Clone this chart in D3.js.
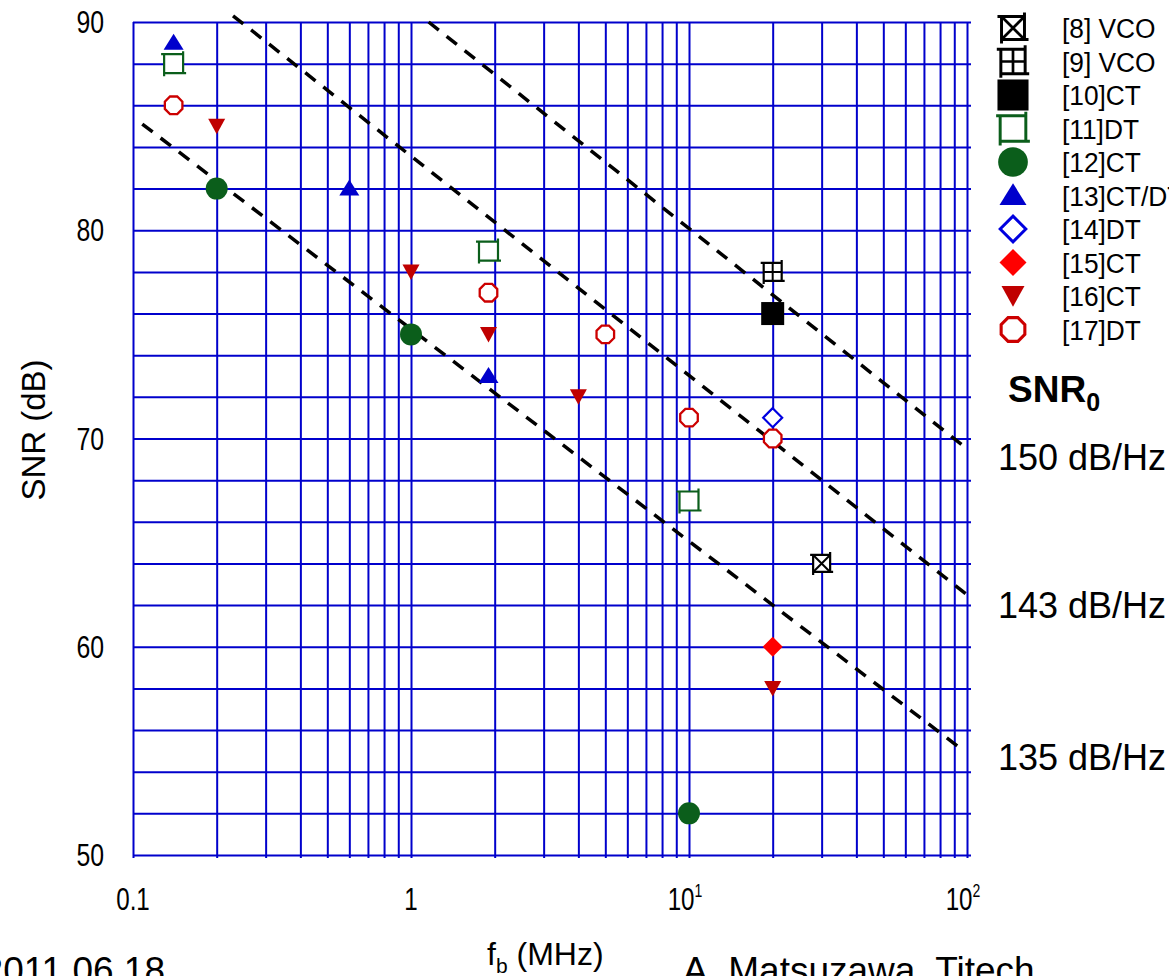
<!DOCTYPE html>
<html><head><meta charset="utf-8">
<script src="https://cdn.jsdelivr.net/npm/d3@7"></script>
<style>body{margin:0;background:#fff;overflow:hidden} svg{display:block;font-family:"Liberation Sans",Arial,sans-serif;}</style>
</head><body><svg id="c" width="1169" height="976"></svg>
<script>
// ---------- data ----------
const legendLabels = ["[8] VCO","[9] VCO","[10]CT","[11]DT","[12]CT","[13]CT/DT","[14]DT","[15]CT","[16]CT","[17]DT"];
const markerTypes = ["boxX","boxPlus","fillSquare","openSquare","fillCircle","triUp","openDiamond","fillDiamond","triDown","octagon"];
const fb8 = [30],            snr8 = [64];
const fb9 = [20],            snr9 = [78];
const fb10 = [20],           snr10 = [76];
const fb11 = [0.14, 1.9, 10],  snr11 = [88, 79, 67];
const fb12 = [0.2, 1, 10],     snr12 = [82, 75, 52];
const fb13 = [0.14, 0.6, 1.9], snr13 = [89, 82, 73];
const fb14 = [20],           snr14 = [71];
const fb15 = [20],           snr15 = [60];
const fb16 = [0.2, 1, 1.9, 4, 20], snr16 = [85, 78, 75, 72, 58];
const fb17 = [0.14, 1.9, 5, 10, 20], snr17 = [86, 77, 75, 71, 70];
const seriesFb  = [fb8, fb9, fb10, fb11, fb12, fb13, fb14, fb15, fb16, fb17];
const seriesSnr = [snr8, snr9, snr10, snr11, snr12, snr13, snr14, snr15, snr16, snr17];

// SNR0 guide lines (start / end points in data units)
const snr0Labels = ["150 dB/Hz", "143 dB/Hz", "135 dB/Hz"];
const guideStartFb = [1.157, 0.229, 0.108], guideStartSnr = [90, 90.3, 85.1];
const guideEndFb   = [100, 100, 95.2],      guideEndSnr   = [69.5, 62.5, 55.1];

const xTickVals = [0.1, 1, 10, 100];
const xTickBase = ["0.1", "1", "10", "10"];
const xTickSup  = ["", "", "1", "2"];
const yTickVals = [50, 60, 70, 80, 90];

// ---------- chart ----------
const svg = d3.select("#c");
const L = 133, R = 967, T = 22, B = 855;
const x = d3.scaleLog().domain([0.1, 100]).range([L, R]);
const y = d3.scaleLinear().domain([50, 90]).range([B, T]);
const GRID = "#0000cc";

// vertical grid (log minor lines)
const gridX = [];
[0.1, 1, 10].forEach(d => { for (let k = 1; k <= 9; k++) gridX.push(+(d * k).toPrecision(3)); });
gridX.push(100);
const gridYv = d3.range(50, 91, 2);

const gx = svg.append("g").attr("transform", `translate(0,${B})`)
  .call(d3.axisBottom(x).tickValues(gridX).tickSize(-(B - T)).tickSizeOuter(0).tickFormat(""));
gx.select(".domain").remove();
gx.selectAll(".tick line").attr("stroke", GRID).attr("stroke-width", 2).attr("y1", 3);

const gy = svg.append("g").attr("transform", `translate(${L},0)`)
  .call(d3.axisLeft(y).tickValues(gridYv).tickSize(-(R - L) - 4).tickSizeOuter(0).tickFormat(""));
gy.select(".domain").remove();
gy.selectAll(".tick line").attr("stroke", GRID).attr("stroke-width", 2).attr("x1", 0);

// guide dashed lines
const guides = svg.append("g");
snr0Labels.forEach((lab, i) => {
  guides.append("line")
    .attr("x1", x(guideStartFb[i])).attr("y1", y(guideStartSnr[i]))
    .attr("x2", x(guideEndFb[i])).attr("y2", y(guideEndSnr[i]))
    .attr("stroke", "#000").attr("stroke-width", 3.5).attr("stroke-dasharray", "13,10");
});

// markers
function box(G, color, h, sw) {
  G.append("rect").attr("x", -h).attr("y", -h).attr("width", 2 * h).attr("height", 2 * h).attr("fill", "#fff");
  const o = 3;
  G.append("path").attr("d",
    `M${-h - o},${-h}H${h + 1}M${-h},${h}H${h + o}M${-h},${-h + 1}V${h + o}M${h},${-h - o}V${h - 1}`)
    .attr("stroke", color).attr("stroke-width", sw).attr("fill", "none");
}
function marker(g, type, cx, cy, s) {
  const G = g.append("g").attr("transform", `translate(${cx},${cy}) scale(${s})`);
  switch (type) {
    case "boxX":
      box(G, "#000", 8.5, 2.2);
      G.append("path").attr("d", "M-8.5,-8.5L8.5,8.5M8.5,-8.5L-8.5,8.5").attr("stroke", "#000").attr("stroke-width", 2);
      break;
    case "boxPlus":
      box(G, "#000", 9, 2.2);
      G.append("path").attr("d", "M0,-9V9M-9,0H9").attr("stroke", "#000").attr("stroke-width", 2);
      break;
    case "fillSquare":
      G.append("rect").attr("x", -11.5).attr("y", -11.5).attr("width", 23).attr("height", 23).attr("fill", "#000");
      break;
    case "openSquare":
      box(G, "#0b5e1b", 9.5, 2.2);
      break;
    case "fillCircle":
      G.append("circle").attr("r", 11).attr("fill", "#0b5e1b");
      break;
    case "triUp":
      G.append("path").attr("d", "M0,-9L10,7H-10Z").attr("fill", "#0000cc");
      break;
    case "openDiamond":
      G.append("path").attr("d", "M0,-9.5L9.5,0L0,9.5L-9.5,0Z").attr("fill", "#fff").attr("stroke", "#0000e0").attr("stroke-width", 2.2);
      break;
    case "fillDiamond":
      G.append("path").attr("d", "M0,-10L10,0L0,10L-10,0Z").attr("fill", "#ff0000");
      break;
    case "triDown":
      G.append("path").attr("d", "M-8.5,-7.5H8.5L0,8Z").attr("fill", "#c00000");
      break;
    case "octagon": {
      const r = 9.5, pts = d3.range(8).map(k => {
        const a = Math.PI / 8 + k * Math.PI / 4;
        return [r * Math.cos(a), r * Math.sin(a)];
      });
      G.append("path").attr("d", "M" + pts.join("L") + "Z").attr("fill", "#fff").attr("stroke", "#cc0000").attr("stroke-width", 2.3);
      break;
    }
  }
}
const marks = svg.append("g");
seriesFb.forEach((fbs, si) => {
  fbs.forEach((f, j) => marker(marks, markerTypes[si], x(f), y(seriesSnr[si][j]), 1));
});

// text helper (allows horizontal condensing)
function txt(xp, yp, str, o = {}) {
  const t = svg.append("text")
    .attr("transform", `translate(${xp},${yp}) scale(${o.sx || 1},1)`)
    .attr("text-anchor", o.anchor || "start")
    .attr("font-size", o.size || 20)
    .attr("font-weight", o.weight || "normal")
    .attr("fill", "#000");
  if (str !== null) t.text(str);
  return t;
}

// y tick labels
yTickVals.forEach(v => txt(104, y(v) + 11, String(v), { size: 31, anchor: "end", sx: 0.8 }));
// x tick labels
xTickVals.forEach((v, i) => {
  const t = txt(x(v) + (xTickSup[i] ? -4 : 0), 910, null, { size: 31, anchor: "middle", sx: 0.78 });
  t.append("tspan").text(xTickBase[i]);
  if (xTickSup[i]) t.append("tspan").attr("font-size", 18).attr("dy", -13).text(xTickSup[i]);
});

// axis titles
txt(46, 430, "SNR (dB)", { size: 33, anchor: "middle" }).attr("transform", "translate(45,430) rotate(-90)");
const xt = txt(487, 965, null, { size: 32 });
xt.append("tspan").text("f");
xt.append("tspan").attr("font-size", 21).attr("dy", 8).text("b");
xt.append("tspan").attr("dy", -8).text(" (MHz)");

// footer
txt(165, 983, "2011.06.18", { size: 37, anchor: "end" });
txt(683, 983, "A. Matsuzawa, Titech", { size: 37 });

// legend
legendLabels.forEach((lab, i) => {
  const ly = 28 + i * 33.5;
  marker(svg, markerTypes[i], 1013, ly, 1.35);
  txt(1062, ly + 10, lab, { size: 28, sx: 0.94 });
});

// SNR0 block
const s0 = txt(1008, 402, null, { size: 37, weight: "bold" });
s0.append("tspan").text("SNR");
s0.append("tspan").attr("font-size", 25).attr("dy", 9).text("0");
const snr0Base = [470, 618, 770];
snr0Labels.forEach((lab, i) => txt(998, snr0Base[i], lab, { size: 36 }));
</script>
</body></html>
